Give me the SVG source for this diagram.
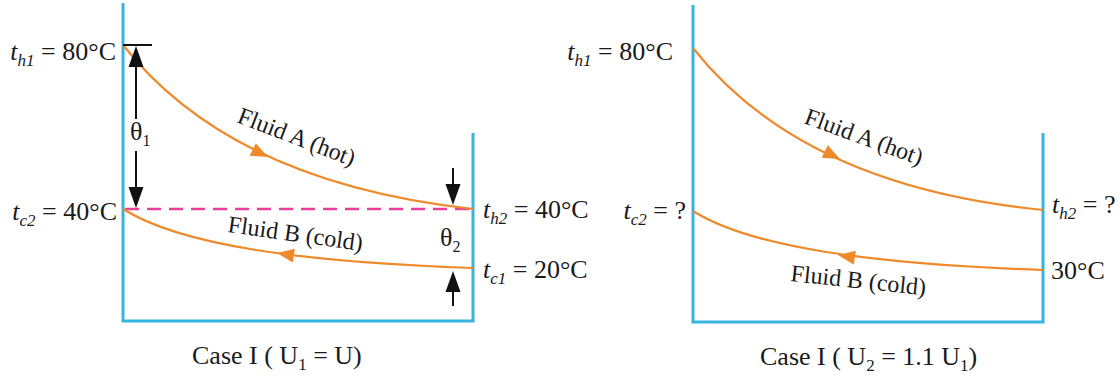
<svg xmlns="http://www.w3.org/2000/svg" xmlns:xlink="http://www.w3.org/1999/xlink" width="1120" height="380" viewBox="0 0 1120 380">
  <style>
    .frame { fill: none; stroke: #36b4e2; stroke-width: 3; }
    .flow { fill: none; stroke: #f0892a; stroke-width: 2.2; }
    .dash { fill: none; stroke: #e8409a; stroke-width: 2.6; stroke-dasharray: 14 8; }
    .dim { fill: none; stroke: #111; stroke-width: 2; }
    .lbl { font-family: "Liberation Serif", "Times New Roman", serif; font-size: 26px; fill: #1a1a1a; }
    .flbl { font-family: "Liberation Serif", "Times New Roman", serif; font-size: 24px; fill: #1a1a1a; }
    .it { font-style: italic; }
  </style>
  <defs>
    <path id="oah" d="M0,0 L-17,-7 L-17,7 Z" fill="#f0892a"/>
    <path id="bah" d="M0,0 L-21,-7.5 L-21,7.5 Z" fill="#111"/>
  </defs>
  <rect width="1120" height="380" fill="#ffffff"/>

  <!-- Case I panel -->
  <g id="panel1">
    <path class="frame" d="M123,3 L123,321 L473,321 L473,133"/>
    <path class="dash" d="M125,209 L471,209"/>
  </g>
  <g id="connectors1">
    <path id="hot1" class="flow" d="M123,45 C190,130 300,190 473,209"/>
    <use href="#oah" transform="translate(268,157) rotate(26)"/>
    <path id="cold1" class="flow" d="M123,209 C180,245 300,262 473,268"/>
    <use href="#oah" transform="translate(277,253) rotate(189)"/>
    <!-- theta1 dimension -->
    <path class="dim" d="M123,45 L152,45"/>
    <path class="dim" d="M136,66 L136,119 M136,151 L136,188"/>
    <use href="#bah" transform="translate(136,46) rotate(-90)"/>
    <use href="#bah" transform="translate(136,208) rotate(90)"/>
    <!-- theta2 dimension -->
    <path class="dim" d="M453,168 L453,186 M453,290 L453,306"/>
    <use href="#bah" transform="translate(453,205) rotate(90)"/>
    <use href="#bah" transform="translate(453,271) rotate(-90)"/>
  </g>
  <g id="labels1">
    <text class="lbl" x="116" y="60" text-anchor="end"><tspan class="it">t</tspan><tspan class="it" font-size="17" dy="6">h1</tspan><tspan dy="-6"> = 80°C</tspan></text>
    <text class="lbl" x="117" y="220" text-anchor="end"><tspan class="it">t</tspan><tspan class="it" font-size="17" dy="6">c2</tspan><tspan dy="-6"> = 40°C</tspan></text>
    <text class="lbl" x="483" y="218"><tspan class="it">t</tspan><tspan class="it" font-size="17" dy="6">h2</tspan><tspan dy="-6"> = 40°C</tspan></text>
    <text class="lbl" x="483" y="278"><tspan class="it">t</tspan><tspan class="it" font-size="17" dy="6">c1</tspan><tspan dy="-6"> = 20°C</tspan></text>
    <text class="lbl" x="130" y="140" font-size="24">θ<tspan font-size="16" dy="6">1</tspan></text>
    <text class="lbl" x="440" y="246" font-size="24">θ<tspan font-size="16" dy="6">2</tspan></text>
    <text class="flbl" transform="translate(236,122) rotate(21)">Fluid A (hot)</text>
    <text class="flbl" transform="translate(227,232) rotate(8)">Fluid B (cold)</text>
    <text class="lbl" x="192" y="364">Case I ( U<tspan font-size="17" dy="6">1</tspan><tspan dy="-6"> = U)</tspan></text>
  </g>

  <!-- Case II panel -->
  <g id="panel2">
    <path class="frame" d="M693,5 L693,322 L1043,322 L1043,133"/>
  </g>
  <g id="connectors2">
    <path id="hot2" class="flow" d="M693,48 C760,133 870,193 1043,210"/>
    <use href="#oah" transform="translate(840,159) rotate(26)"/>
    <path id="cold2" class="flow" d="M693,211 C750,247 870,264 1043,270"/>
    <use href="#oah" transform="translate(838,255) rotate(189)"/>
  </g>
  <g id="labels2">
    <text class="lbl" x="673" y="60" text-anchor="end"><tspan class="it">t</tspan><tspan class="it" font-size="17" dy="6">h1</tspan><tspan dy="-6"> = 80°C</tspan></text>
    <text class="lbl" x="686" y="219" text-anchor="end"><tspan class="it">t</tspan><tspan class="it" font-size="17" dy="6">c2</tspan><tspan dy="-6"> = ?</tspan></text>
    <text class="lbl" x="1052" y="213"><tspan class="it">t</tspan><tspan class="it" font-size="17" dy="6">h2</tspan><tspan dy="-6"> = ?</tspan></text>
    <text class="lbl" x="1051" y="279">30°C</text>
    <text class="flbl" transform="translate(803,123) rotate(20)">Fluid A (hot)</text>
    <text class="flbl" transform="translate(790,281) rotate(6)">Fluid B (cold)</text>
    <text class="lbl" x="760" y="365">Case I ( U<tspan font-size="17" dy="6">2</tspan><tspan dy="-6"> = 1.1 U</tspan><tspan font-size="17" dy="6">1</tspan><tspan dy="-6">)</tspan></text>
  </g>
</svg>
